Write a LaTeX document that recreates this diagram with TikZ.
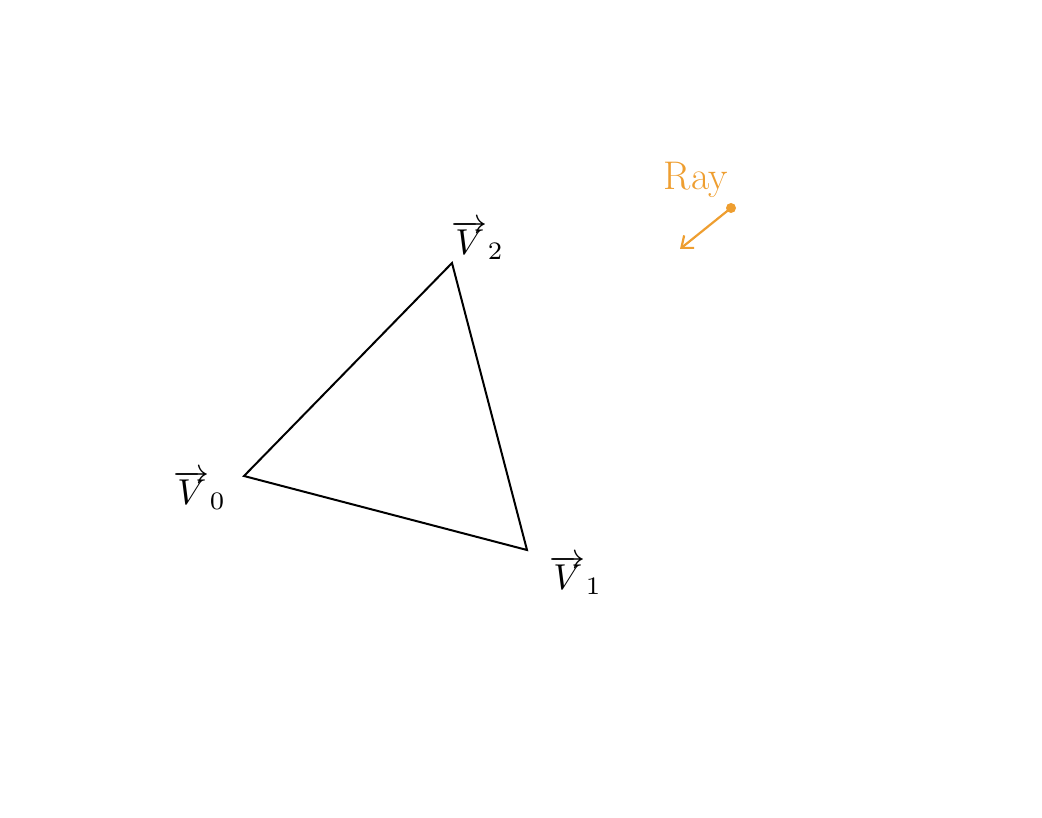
\documentclass[tikz,border=0pt]{standalone}
\usepackage{tikz}
\usetikzlibrary{positioning, arrows.meta}
\definecolor{rayorange}{RGB}{238,158,48}

\begin{document}
\begin{tikzpicture}[
			x=1pt, y=-1pt,
			tri/.style={draw, line width=2pt, line join=miter},
			vlabel/.style={inner sep=0pt, scale=3.6, transform shape},
			ray/.style={draw=rayorange, line width=2.2pt, -{Straight Barb[length=10pt, width=16pt]}},
			raytext/.style={font=\fontsize{40}{44}\selectfont, text=rayorange, inner sep=0pt}
			]
			
			% plocha obrazku
			\useasboundingbox (0,0) rectangle (1042,818);
			
			% vrcholy trojuhelniku
			\coordinate (v0) at (244,476);
			\coordinate (v1) at (527,550);
			\coordinate (v2) at (452,263);
			\path[tri] (v0) -- (v1) -- (v2) -- cycle;
			
			% popisky vrcholu
			\node[vlabel] (lv0) at (200,490) {$\overrightarrow{V}_0$};
			\node[vlabel] (lv1) at (576,575) {$\overrightarrow{V}_1$};
			\node[vlabel] (lv2) at (478,240) {$\overrightarrow{V}_2$};
			
			% paprsek
			\coordinate (raystart) at (731,208);
			\coordinate (rayend) at (680,249);
			\draw[ray] (raystart) -- (rayend);
			\fill[rayorange] (raystart) circle (5pt);
			\node[raytext, above left=10pt and 3pt of raystart] (raylabel) {Ray};
			
		\end{tikzpicture}
\end{document}
